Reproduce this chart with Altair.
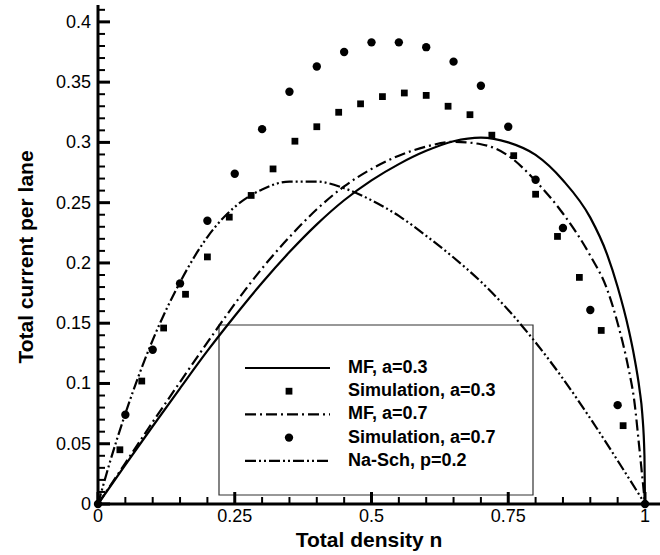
import altair as alt
import pandas as pd

# ---------------- data ----------------
mf03_n = [0, 0.05, 0.1, 0.15, 0.2, 0.25, 0.3, 0.35, 0.4, 0.45, 0.5, 0.55, 0.6, 0.65,
          0.7, 0.75, 0.8, 0.85, 0.9, 0.93, 0.95, 0.97, 0.98, 0.99, 0.995, 0.999, 1]
mf03_j = [0, 0.0325, 0.0645, 0.096, 0.127, 0.156, 0.1836, 0.209, 0.232, 0.252, 0.2685, 0.282, 0.293, 0.301,
          0.304, 0.300, 0.2896, 0.2686, 0.2376, 0.208, 0.180, 0.145, 0.123, 0.095, 0.075, 0.04, 0]

mf07_n = [0, 0.05, 0.1, 0.15, 0.2, 0.25, 0.3, 0.35, 0.4, 0.45, 0.5, 0.55, 0.6, 0.65,
          0.7, 0.75, 0.8, 0.85, 0.9, 0.93, 0.95, 0.97, 0.98, 0.99, 1]
mf07_j = [0, 0.034, 0.068, 0.1012, 0.134, 0.166, 0.1955, 0.2215, 0.2445, 0.2635, 0.278, 0.289, 0.2965, 0.3005,
          0.2985, 0.289, 0.268, 0.241, 0.206, 0.179, 0.150, 0.112, 0.087, 0.045, 0]

nasch_n = [0, 0.02, 0.05, 0.1, 0.15, 0.2, 0.25, 0.3, 0.35, 0.4, 0.45, 0.5, 0.55, 0.6,
           0.65, 0.7, 0.75, 0.8, 0.85, 0.9, 0.95, 1]
nasch_j = [0, 0.032, 0.075, 0.136, 0.184, 0.2215, 0.2465, 0.261, 0.2675, 0.2675, 0.262, 0.252, 0.239, 0.2225,
           0.2045, 0.1845, 0.161, 0.134, 0.104, 0.071, 0.036, 0]

sim03_n = [0.04, 0.08, 0.12, 0.16, 0.20, 0.24, 0.28, 0.32, 0.36, 0.40, 0.44, 0.48,
           0.52, 0.56, 0.60, 0.64, 0.68, 0.72, 0.76, 0.80, 0.84, 0.88, 0.92, 0.96]
sim03_j = [0.045, 0.102, 0.146, 0.174, 0.205, 0.238, 0.256, 0.278, 0.301, 0.313, 0.325, 0.332,
           0.338, 0.341, 0.339, 0.330, 0.323, 0.306, 0.289, 0.257, 0.222, 0.188, 0.144, 0.065]

sim07_n = [0, 0.05, 0.1, 0.15, 0.2, 0.25, 0.3, 0.35, 0.4, 0.45, 0.5, 0.55, 0.6, 0.65,
           0.7, 0.75, 0.8, 0.85, 0.9, 0.95, 1]
sim07_j = [0, 0.074, 0.128, 0.183, 0.235, 0.274, 0.311, 0.342, 0.363, 0.375, 0.383, 0.383, 0.379, 0.367,
           0.347, 0.313, 0.269, 0.229, 0.161, 0.082, 0]

x_major = [0, 0.25, 0.5, 0.75, 1]
x_major_labels = ["0", "0.25", "0.5", "0.75", "1"]
x_minor = [0.05, 0.1, 0.15, 0.2, 0.3, 0.35, 0.4, 0.45, 0.55, 0.6, 0.65, 0.7, 0.8, 0.85, 0.9, 0.95]
y_major = [0, 0.05, 0.1, 0.15, 0.2, 0.25, 0.3, 0.35, 0.4]
y_major_labels = ["0", "0.05", "0.1", "0.15", "0.2", "0.25", "0.3", "0.35", "0.4"]
y_minor = [round(i * 0.01, 2) for i in range(1, 42) if i % 5 != 0]

legend_labels = ["MF, a=0.3", "Simulation, a=0.3", "MF, a=0.7", "Simulation, a=0.7", "Na-Sch, p=0.2"]
x_title = "Total density n"
y_title = "Total current per lane"

# ---------------- layout ----------------
FONT = "Liberation Sans"
W, H = 562, 499
XMAX = W / 547.0
YMAX = 0.414
DASHDOT = [11, 4, 2, 4]
DASHDOTDOT = [11, 3, 2, 3, 2, 3]

xs = alt.Scale(domain=[0, XMAX], nice=False, zero=False)
ys = alt.Scale(domain=[0, YMAX], nice=False, zero=False)
one = pd.DataFrame({"a": [0]})


def frame(n, j):
    return pd.DataFrame({"n": n, "j": j})


def line(df, dash=None):
    kw = dict(color="black", strokeWidth=2.2, interpolate="monotone")
    if dash:
        kw["strokeDash"] = dash
    return alt.Chart(df).mark_line(**kw).encode(
        x=alt.X("n:Q", scale=xs, axis=None),
        y=alt.Y("j:Q", scale=ys, axis=None),
    )


def points(df, shape, size):
    return alt.Chart(df).mark_point(shape=shape, filled=True, color="black", size=size, opacity=1).encode(
        x=alt.X("n:Q", scale=xs, axis=None),
        y=alt.Y("j:Q", scale=ys, axis=None),
    )


# ---- axes drawn with marks ----
y_domain = alt.Chart(one).mark_rule(color="black", strokeWidth=3).encode(
    x=alt.value(0), y=alt.value(0), y2=alt.value(H + 1.5))
x_domain = alt.Chart(one).mark_rule(color="black", strokeWidth=3).encode(
    y=alt.value(H), x=alt.value(-1.5), x2=alt.value(W))


def yticks(vals, length, width):
    return alt.Chart(pd.DataFrame({"v": vals})).mark_rule(color="black", strokeWidth=width).encode(
        y=alt.Y("v:Q", scale=ys, axis=None), x=alt.value(0), x2=alt.value(length))


def xticks(vals, length, width):
    return alt.Chart(pd.DataFrame({"v": vals})).mark_rule(color="black", strokeWidth=width).encode(
        x=alt.X("v:Q", scale=xs, axis=None), y=alt.value(H), y2=alt.value(H - length))


x_labels = alt.Chart(pd.DataFrame({"v": x_major, "t": x_major_labels})).mark_text(
    align="center", baseline="alphabetic", font=FONT, fontSize=18, color="black").encode(
    x=alt.X("v:Q", scale=xs, axis=None), y=alt.value(H + 18), text="t:N")

y_labels = alt.Chart(pd.DataFrame({"v": y_major, "t": y_major_labels})).mark_text(
    align="right", baseline="middle", font=FONT, fontSize=18, color="black", dy=1).encode(
    y=alt.Y("v:Q", scale=ys, axis=None), x=alt.value(-7), text="t:N")

x_title_mark = alt.Chart(one).mark_text(
    align="center", baseline="alphabetic", font=FONT, fontSize=21, fontWeight="bold",
    color="black", text=x_title).encode(x=alt.value(271), y=alt.value(H + 43))

y_title_mark = alt.Chart(one).mark_text(
    align="center", baseline="alphabetic", font=FONT, fontSize=21, fontWeight="bold",
    color="black", text=y_title, angle=270).encode(x=alt.value(-65), y=alt.value(252))

# ---- legend (pixel positions in the plot area) ----
LX0, LX1, LY0, LY1 = 121, 435, 320, 490
ROW0, STEP = 363, 23.2
SX0, SX1, SXC, TX = 147, 232, 191, 250
rows = [ROW0 + i * STEP for i in range(len(legend_labels))]

leg_box = alt.Chart(one).mark_rect(
    fill="white", fillOpacity=0, stroke="#333333", strokeWidth=1.2).encode(
    x=alt.value(LX0), x2=alt.value(LX1), y=alt.value(LY0), y2=alt.value(LY1))


def leg_line(row, dash=None):
    kw = dict(color="black", strokeWidth=2.2)
    if dash:
        kw["strokeDash"] = dash
    return alt.Chart(one).mark_rule(**kw).encode(
        x=alt.value(SX0), x2=alt.value(SX1), y=alt.value(rows[row]))


def leg_point(row, shape, size):
    return alt.Chart(one).mark_point(
        shape=shape, filled=True, color="black", size=size, opacity=1).encode(
        x=alt.value(SXC), y=alt.value(rows[row]))


def leg_text(row):
    return alt.Chart(one).mark_text(
        align="left", baseline="middle", font=FONT, fontSize=18, fontWeight="bold",
        color="black", text=legend_labels[row]).encode(
        x=alt.value(TX), y=alt.value(rows[row]))


chart = alt.layer(
    leg_box,
    line(frame(mf03_n, mf03_j)),
    line(frame(mf07_n, mf07_j), DASHDOT),
    line(frame(nasch_n, nasch_j), DASHDOTDOT),
    points(frame(sim03_n, sim03_j), "square", 46),
    points(frame(sim07_n, sim07_j), "circle", 70),
    y_domain, x_domain,
    yticks(y_major, 12, 3), yticks(y_minor, 7, 2),
    xticks(x_major, 12, 3), xticks(x_minor, 7, 2),
    x_labels, y_labels, x_title_mark, y_title_mark,
    leg_line(0), leg_point(1, "square", 46), leg_line(2, DASHDOT),
    leg_point(3, "circle", 70), leg_line(4, DASHDOTDOT),
    *[leg_text(i) for i in range(len(legend_labels))],
).properties(
    width=W, height=H,
    autosize=alt.AutoSizeParams(type="none"),
    padding={"left": 98, "top": 5, "right": 0, "bottom": 51},
    background="white",
).configure_view(strokeWidth=0)

chart.save("out.html", embed_options={"renderer": "svg", "actions": False})
